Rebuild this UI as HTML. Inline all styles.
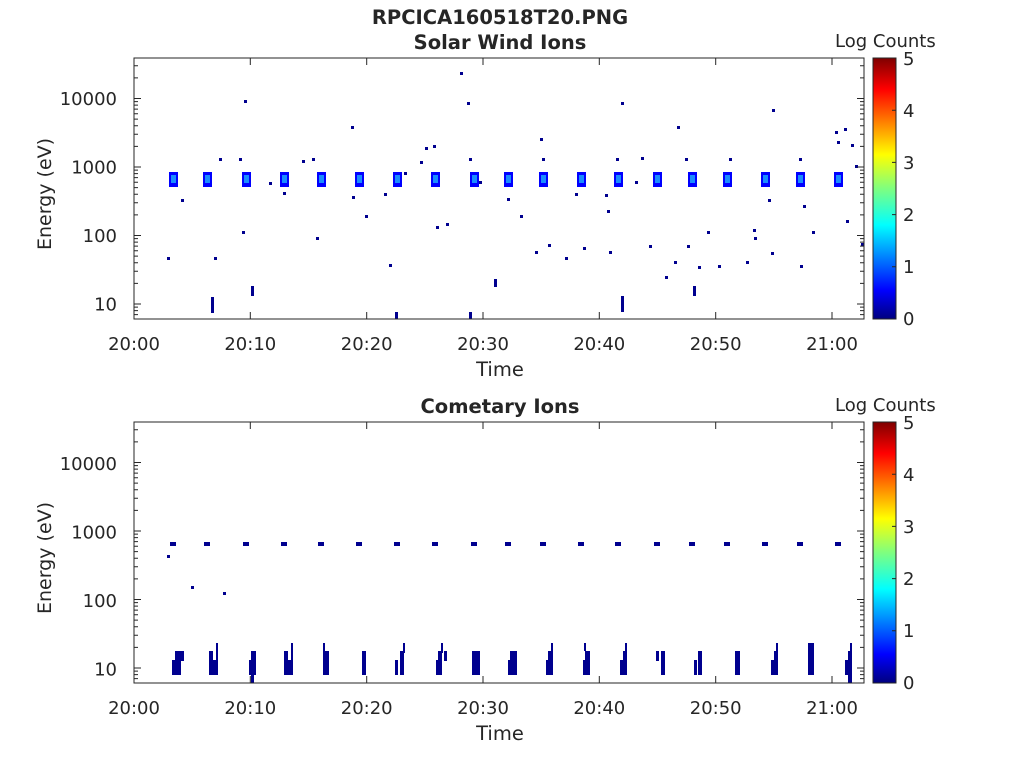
<!DOCTYPE html>
<html><head><style>
body{margin:0;background:#fff;}
svg text{font-family:"DejaVu Sans","Liberation Sans",sans-serif;fill:#262626;}
</style></head><body>
<svg width="1024" height="768" viewBox="0 0 1024 768" xmlns="http://www.w3.org/2000/svg">
<defs>
<linearGradient id="jet" x1="0" y1="1" x2="0" y2="0">
<stop offset="0" stop-color="#00007f"/>
<stop offset="0.11" stop-color="#0000ff"/>
<stop offset="0.36" stop-color="#00ffff"/>
<stop offset="0.5" stop-color="#7fff7f"/>
<stop offset="0.63" stop-color="#ffff00"/>
<stop offset="0.88" stop-color="#ff0000"/>
<stop offset="1" stop-color="#7f0000"/>
</linearGradient>
</defs>
<rect width="1024" height="768" fill="#fff"/>
<text x="500" y="24" font-size="19.5" font-weight="bold" text-anchor="middle" fill="#000">RPCICA160518T20.PNG</text>
<text x="500" y="49" font-size="19.5" font-weight="bold" text-anchor="middle" fill="#000">Solar Wind Ions</text>
<text x="500" y="413" font-size="19.5" font-weight="bold" text-anchor="middle" fill="#000">Cometary Ions</text>

<rect x="873" y="58" width="23" height="261" fill="url(#jet)" stroke="#262626"/>
<rect x="873" y="422" width="23" height="261" fill="url(#jet)" stroke="#262626"/>
<g font-size="18">
<text x="835" y="47">Log Counts</text>
<text x="835" y="411">Log Counts</text>
<text x="903" y="325">0</text><text x="903" y="273">1</text><text x="903" y="221">2</text><text x="903" y="169">3</text><text x="903" y="117">4</text><text x="903" y="65">5</text>
<text x="903" y="689">0</text><text x="903" y="637">1</text><text x="903" y="585">2</text><text x="903" y="533">3</text><text x="903" y="481">4</text><text x="903" y="429">5</text>
</g>
<path stroke="#262626" d="M896 110.2h-4M896 162.4h-4M896 214.6h-4M896 266.8h-4M896 474.2h-4M896 526.4h-4M896 578.6h-4M896 630.8h-4"/>

<!-- TOP DATA -->
<g fill="#0000ff">
<rect x="169" y="172" width="9" height="15"/><rect x="203" y="172" width="9" height="15"/><rect x="242" y="172" width="9" height="15"/><rect x="280" y="172" width="9" height="15"/><rect x="317" y="172" width="9" height="15"/><rect x="355" y="172" width="9" height="15"/><rect x="393" y="172" width="9" height="15"/><rect x="431" y="172" width="9" height="15"/><rect x="470" y="172" width="9" height="15"/><rect x="504" y="172" width="9" height="15"/><rect x="539" y="172" width="9" height="15"/><rect x="577" y="172" width="9" height="15"/><rect x="614" y="172" width="9" height="15"/><rect x="653" y="172" width="9" height="15"/><rect x="688" y="172" width="9" height="15"/><rect x="723" y="172" width="9" height="15"/><rect x="761" y="172" width="9" height="15"/><rect x="796" y="172" width="9" height="15"/><rect x="834" y="172" width="9" height="15"/>
</g>
<g fill="#1a8cff">
<rect x="171" y="175" width="5" height="8"/><rect x="205" y="175" width="5" height="8"/><rect x="244" y="175" width="5" height="8"/><rect x="282" y="175" width="5" height="8"/><rect x="319" y="175" width="5" height="8"/><rect x="357" y="175" width="5" height="8"/><rect x="395" y="175" width="5" height="8"/><rect x="433" y="175" width="5" height="8"/><rect x="472" y="175" width="5" height="8"/><rect x="506" y="175" width="5" height="8"/><rect x="541" y="175" width="5" height="8"/><rect x="579" y="175" width="5" height="8"/><rect x="616" y="175" width="5" height="8"/><rect x="655" y="175" width="5" height="8"/><rect x="690" y="175" width="5" height="8"/><rect x="725" y="175" width="5" height="8"/><rect x="763" y="175" width="5" height="8"/><rect x="798" y="175" width="5" height="8"/><rect x="836" y="175" width="5" height="8"/>
</g>
<g fill="#00008f">
<rect x="167" y="257" width="3" height="3"/><rect x="181" y="199" width="3" height="3"/><rect x="214" y="257" width="3" height="3"/><rect x="219" y="158" width="3" height="3"/><rect x="239" y="158" width="3" height="3"/><rect x="242" y="231" width="3" height="3"/><rect x="244" y="100" width="3" height="3"/><rect x="269" y="182" width="3" height="3"/><rect x="283" y="192" width="3" height="3"/><rect x="302" y="160" width="3" height="3"/><rect x="312" y="158" width="3" height="3"/><rect x="316" y="237" width="3" height="3"/><rect x="351" y="126" width="3" height="3"/><rect x="352" y="196" width="3" height="3"/><rect x="365" y="215" width="3" height="3"/><rect x="384" y="193" width="3" height="3"/><rect x="389" y="264" width="3" height="3"/><rect x="404" y="172" width="3" height="3"/><rect x="420" y="161" width="3" height="3"/><rect x="425" y="147" width="3" height="3"/><rect x="433" y="145" width="3" height="3"/><rect x="436" y="226" width="3" height="3"/><rect x="446" y="223" width="3" height="3"/><rect x="460" y="72" width="3" height="3"/><rect x="467" y="102" width="3" height="3"/><rect x="469" y="158" width="3" height="3"/><rect x="479" y="181" width="3" height="3"/><rect x="507" y="198" width="3" height="3"/><rect x="520" y="215" width="3" height="3"/><rect x="535" y="251" width="3" height="3"/><rect x="540" y="138" width="3" height="3"/><rect x="542" y="158" width="3" height="3"/><rect x="548" y="244" width="3" height="3"/><rect x="565" y="257" width="3" height="3"/><rect x="575" y="193" width="3" height="3"/><rect x="583" y="247" width="3" height="3"/><rect x="605" y="194" width="3" height="3"/><rect x="607" y="210" width="3" height="3"/><rect x="609" y="251" width="3" height="3"/><rect x="616" y="158" width="3" height="3"/><rect x="621" y="102" width="3" height="3"/><rect x="635" y="181" width="3" height="3"/><rect x="641" y="157" width="3" height="3"/><rect x="649" y="245" width="3" height="3"/><rect x="665" y="276" width="3" height="3"/><rect x="674" y="261" width="3" height="3"/><rect x="677" y="126" width="3" height="3"/><rect x="685" y="158" width="3" height="3"/><rect x="687" y="245" width="3" height="3"/><rect x="698" y="266" width="3" height="3"/><rect x="707" y="231" width="3" height="3"/><rect x="718" y="265" width="3" height="3"/><rect x="729" y="158" width="3" height="3"/><rect x="746" y="261" width="3" height="3"/><rect x="753" y="229" width="3" height="3"/><rect x="754" y="237" width="3" height="3"/><rect x="771" y="252" width="3" height="3"/><rect x="772" y="109" width="3" height="3"/><rect x="768" y="199" width="3" height="3"/><rect x="799" y="158" width="3" height="3"/><rect x="800" y="265" width="3" height="3"/><rect x="803" y="205" width="3" height="3"/><rect x="812" y="231" width="3" height="3"/><rect x="835" y="131" width="3" height="3"/><rect x="837" y="141" width="3" height="3"/><rect x="844" y="128" width="3" height="3"/><rect x="846" y="220" width="3" height="3"/><rect x="851" y="144" width="3" height="3"/><rect x="855" y="165" width="3" height="3"/><rect x="861" y="243" width="3" height="3"/>
<rect x="211" y="297" width="3" height="16"/><rect x="251" y="286" width="3" height="10"/><rect x="395" y="312" width="3" height="7"/><rect x="469" y="312" width="3" height="7"/><rect x="494" y="279" width="3" height="8"/><rect x="621" y="296" width="3" height="16"/><rect x="693" y="286" width="3" height="10"/>
</g>

<!-- BOTTOM DATA -->
<g fill="#00008f">
<rect x="170" y="542" width="6" height="4"/><rect x="204" y="542" width="6" height="4"/><rect x="243" y="542" width="6" height="4"/><rect x="281" y="542" width="6" height="4"/><rect x="318" y="542" width="6" height="4"/><rect x="356" y="542" width="6" height="4"/><rect x="394" y="542" width="6" height="4"/><rect x="432" y="542" width="6" height="4"/><rect x="471" y="542" width="6" height="4"/><rect x="505" y="542" width="6" height="4"/><rect x="540" y="542" width="6" height="4"/><rect x="578" y="542" width="6" height="4"/><rect x="615" y="542" width="6" height="4"/><rect x="654" y="542" width="6" height="4"/><rect x="689" y="542" width="6" height="4"/><rect x="724" y="542" width="6" height="4"/><rect x="762" y="542" width="6" height="4"/><rect x="797" y="542" width="6" height="4"/><rect x="835" y="542" width="6" height="4"/>
<rect x="167" y="555" width="3" height="3"/><rect x="191" y="586" width="3" height="3"/><rect x="223" y="592" width="3" height="3"/>
<rect x="172" y="660" width="9" height="15"/><rect x="175" y="651" width="9" height="10"/>
<rect x="209" y="651" width="4" height="24"/><rect x="213" y="660" width="5" height="15"/><rect x="216" y="643" width="2" height="18"/>
<rect x="249" y="660" width="4" height="15"/><rect x="251" y="651" width="5" height="24"/><rect x="251" y="675" width="3" height="8"/>
<rect x="284" y="651" width="4" height="24"/><rect x="288" y="660" width="5" height="15"/><rect x="291" y="643" width="2" height="18"/>
<rect x="323" y="643" width="2" height="8"/><rect x="323" y="651" width="6" height="24"/>
<rect x="362" y="651" width="4" height="24"/>
<rect x="395" y="660" width="3" height="15"/><rect x="400" y="651" width="4" height="24"/><rect x="403" y="643" width="2" height="10"/>
<rect x="436" y="660" width="4" height="15"/><rect x="438" y="651" width="4" height="24"/><rect x="441" y="643" width="2" height="10"/><rect x="444" y="651" width="3" height="10"/>
<rect x="472" y="651" width="8" height="24"/>
<rect x="510" y="651" width="7" height="24"/><rect x="508" y="660" width="3" height="15"/>
<rect x="546" y="660" width="4" height="15"/><rect x="548" y="651" width="5" height="24"/><rect x="551" y="643" width="2" height="10"/>
<rect x="584" y="643" width="2" height="8"/><rect x="585" y="651" width="5" height="24"/><rect x="583" y="660" width="3" height="15"/>
<rect x="620" y="660" width="3" height="15"/><rect x="623" y="651" width="4" height="24"/><rect x="625" y="643" width="2" height="10"/>
<rect x="656" y="651" width="3" height="10"/><rect x="661" y="651" width="4" height="24"/>
<rect x="694" y="660" width="3" height="15"/><rect x="698" y="651" width="4" height="24"/>
<rect x="735" y="651" width="5" height="24"/>
<rect x="771" y="660" width="5" height="15"/><rect x="774" y="651" width="4" height="24"/><rect x="776" y="643" width="2" height="10"/>
<rect x="808" y="643" width="6" height="32"/>
<rect x="845" y="660" width="3" height="15"/><rect x="848" y="651" width="4" height="32"/><rect x="850" y="643" width="2" height="10"/>
</g>

<!-- TOP AXES -->
<g>
<rect x="134" y="58" width="730" height="261" fill="none" stroke="#262626"/>
<path stroke="#262626" fill="none" d="M134 319v-7M250.3 319v-7M366.7 319v-7M483 319v-7M599.3 319v-7M715.7 319v-7M832 319v-7M134 58v7M250.3 58v7M366.7 58v7M483 58v7M599.3 58v7M715.7 58v7M832 58v7
M134 304h7M134 235.5h7M134 167h7M134 98.5h7M864 304h-7M864 235.5h-7M864 167h-7M864 98.5h-7
M134 307.1h4M134 310.6h4M134 314.6h4M134 283.4h4M134 271.3h4M134 262.8h4M134 256.1h4M134 250.7h4M134 246.1h4M134 242.1h4M134 238.6h4M134 214.9h4M134 202.8h4M134 194.3h4M134 187.6h4M134 182.2h4M134 177.6h4M134 173.6h4M134 170.1h4M134 146.4h4M134 134.3h4M134 125.8h4M134 119.1h4M134 113.7h4M134 109.1h4M134 105.1h4M134 101.6h4M134 77.9h4M134 65.8h4
M864 307.1h-4M864 310.6h-4M864 314.6h-4M864 283.4h-4M864 271.3h-4M864 262.8h-4M864 256.1h-4M864 250.7h-4M864 246.1h-4M864 242.1h-4M864 238.6h-4M864 214.9h-4M864 202.8h-4M864 194.3h-4M864 187.6h-4M864 182.2h-4M864 177.6h-4M864 173.6h-4M864 170.1h-4M864 146.4h-4M864 134.3h-4M864 125.8h-4M864 119.1h-4M864 113.7h-4M864 109.1h-4M864 105.1h-4M864 101.6h-4M864 77.9h-4M864 65.8h-4"/>
<g font-size="18" text-anchor="end">
<text x="117" y="310.5">10</text><text x="117" y="242">100</text><text x="117" y="173.5">1000</text><text x="117" y="105">10000</text>
</g>
<g font-size="18" text-anchor="middle">
<text x="134" y="350">20:00</text><text x="250.3" y="350">20:10</text><text x="366.7" y="350">20:20</text><text x="483" y="350">20:30</text><text x="599.3" y="350">20:40</text><text x="715.7" y="350">20:50</text><text x="832" y="350">21:00</text>
</g>
<text x="500" y="376" font-size="19.5" text-anchor="middle">Time</text>
<text x="51" y="194" font-size="19" text-anchor="middle" transform="rotate(-90 51 194)">Energy (eV)</text>
</g>

<!-- BOTTOM AXES -->
<g transform="translate(0,364)">
<rect x="134" y="58" width="730" height="261" fill="none" stroke="#262626"/>
<path stroke="#262626" fill="none" d="M134 319v-7M250.3 319v-7M366.7 319v-7M483 319v-7M599.3 319v-7M715.7 319v-7M832 319v-7M134 58v7M250.3 58v7M366.7 58v7M483 58v7M599.3 58v7M715.7 58v7M832 58v7
M134 304h7M134 235.5h7M134 167h7M134 98.5h7M864 304h-7M864 235.5h-7M864 167h-7M864 98.5h-7
M134 307.1h4M134 310.6h4M134 314.6h4M134 283.4h4M134 271.3h4M134 262.8h4M134 256.1h4M134 250.7h4M134 246.1h4M134 242.1h4M134 238.6h4M134 214.9h4M134 202.8h4M134 194.3h4M134 187.6h4M134 182.2h4M134 177.6h4M134 173.6h4M134 170.1h4M134 146.4h4M134 134.3h4M134 125.8h4M134 119.1h4M134 113.7h4M134 109.1h4M134 105.1h4M134 101.6h4M134 77.9h4M134 65.8h4
M864 307.1h-4M864 310.6h-4M864 314.6h-4M864 283.4h-4M864 271.3h-4M864 262.8h-4M864 256.1h-4M864 250.7h-4M864 246.1h-4M864 242.1h-4M864 238.6h-4M864 214.9h-4M864 202.8h-4M864 194.3h-4M864 187.6h-4M864 182.2h-4M864 177.6h-4M864 173.6h-4M864 170.1h-4M864 146.4h-4M864 134.3h-4M864 125.8h-4M864 119.1h-4M864 113.7h-4M864 109.1h-4M864 105.1h-4M864 101.6h-4M864 77.9h-4M864 65.8h-4"/>
<g font-size="18" text-anchor="end">
<text x="117" y="311.5">10</text><text x="117" y="243">100</text><text x="117" y="174.5">1000</text><text x="117" y="106">10000</text>
</g>
<g font-size="18" text-anchor="middle">
<text x="134" y="350">20:00</text><text x="250.3" y="350">20:10</text><text x="366.7" y="350">20:20</text><text x="483" y="350">20:30</text><text x="599.3" y="350">20:40</text><text x="715.7" y="350">20:50</text><text x="832" y="350">21:00</text>
</g>
<text x="500" y="376" font-size="19.5" text-anchor="middle">Time</text>
<text x="51" y="194" font-size="19" text-anchor="middle" transform="rotate(-90 51 194)">Energy (eV)</text>
</g>
</svg>
</body></html>
